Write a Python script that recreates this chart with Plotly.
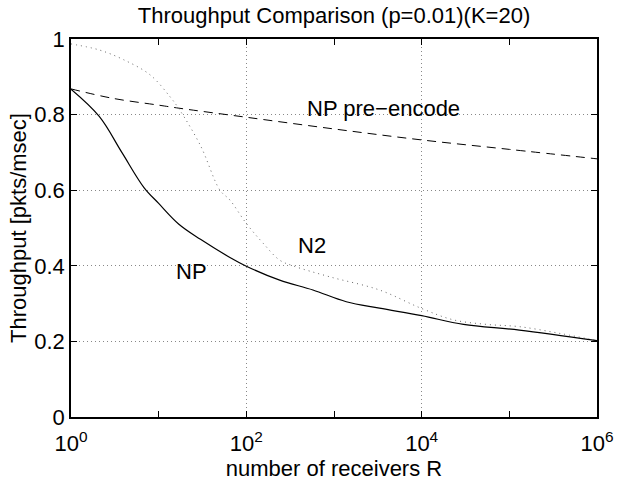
import math
import plotly.graph_objects as go

# number of receivers R
np_R = [1, 2.1, 3.8, 6.8, 10, 17, 30, 65, 100, 240, 575, 1380, 3300, 10000, 30000, 130000, 1000000]
np_thr = [0.867, 0.795, 0.700, 0.607, 0.565, 0.510, 0.470, 0.422, 0.399, 0.362, 0.336, 0.305, 0.288, 0.268, 0.245, 0.23, 0.202]

n2_R = [1, 2.1, 4, 8, 13.5, 17.4, 30, 50, 65, 100, 155, 240, 340, 890, 3300, 10000, 23000, 55000, 130000, 380000, 1000000]
n2_thr = [0.987, 0.971, 0.945, 0.905, 0.847, 0.812, 0.718, 0.60, 0.574, 0.512, 0.46, 0.415, 0.40, 0.371, 0.336, 0.287, 0.257, 0.245, 0.239, 0.221, 0.202]

pre_R = [1, 3, 10, 17, 100, 1000, 10000, 100000, 1000000]
pre_thr = [0.868, 0.843, 0.825, 0.817, 0.793, 0.762, 0.733, 0.708, 0.683]

x_tickvals = [1, 100, 10000, 1000000]
x_ticktext = ["10<sup>0</sup>", "10<sup>2</sup>", "10<sup>4</sup>", "10<sup>6</sup>"]
x_minorvals = [10, 1000, 100000]
y_tickvals = [0, 0.2, 0.4, 0.6, 0.8, 1]
y_ticktext = ["0", "0.2", "0.4", "0.6", "0.8", "1"]

labels = ["NP pre\u2212encode", "N2", "NP"]
label_R = [10 ** 3.56, 10 ** 2.75, 10 ** 1.37]
label_y = [0.817, 0.454, 0.384]

FONT = "Liberation Sans, Arial, Helvetica, sans-serif"
FS = 22

fig = go.Figure()
fig.add_trace(go.Scatter(x=pre_R, y=pre_thr, mode="lines", line=dict(color="black", width=1, dash="9px,6px"),
                         line_shape="spline", showlegend=False))
fig.add_trace(go.Scatter(x=n2_R, y=n2_thr, mode="lines", line=dict(color="#666666", width=1, dash="1px,4px"),
                         line_shape="spline", showlegend=False))
fig.add_trace(go.Scatter(x=np_R, y=np_thr, mode="lines", line=dict(color="black", width=1.2),
                         line_shape="spline", showlegend=False))

for t, xr, yv in zip(labels, label_R, label_y):
    fig.add_annotation(x=math.log10(xr), y=yv, text=t, showarrow=False,
                       font=dict(family=FONT, size=FS, color="black"), xref="x", yref="y")

fig.update_layout(
    width=629, height=485,
    margin=dict(l=71, r=32, t=39, b=68),
    paper_bgcolor="white", plot_bgcolor="white",
    font=dict(family=FONT, size=FS, color="black"),
    title=dict(text="Throughput Comparison (p=0.01)(K=20)", x=0.531, xanchor="center",
               y=0.985, yanchor="top", font=dict(family=FONT, size=FS, color="black")),
)
fig.update_xaxes(
    type="log", range=[0, 6], tickmode="array", tickvals=x_tickvals, ticktext=x_ticktext,
    ticks="inside", ticklen=6, tickcolor="black", tickwidth=1,
    showline=True, linecolor="black", linewidth=1.5, mirror="ticks",
    showgrid=True, gridcolor="#888888", griddash="1px,3px", gridwidth=1,
    zeroline=False, tickfont=dict(family=FONT, size=FS), ticklabelstandoff=6,
    minor=dict(tickvals=x_minorvals, ticks="inside", ticklen=6, tickcolor="black", showgrid=False),
    title=dict(text="number of receivers R", font=dict(family=FONT, size=FS), standoff=0),
)
fig.update_yaxes(
    range=[0, 1], tickmode="array", tickvals=y_tickvals, ticktext=y_ticktext,
    ticks="inside", ticklen=6, tickcolor="black", tickwidth=1,
    showline=True, linecolor="black", linewidth=1.5, mirror="ticks",
    showgrid=True, gridcolor="#888888", griddash="1px,3px", gridwidth=1,
    zeroline=False, tickfont=dict(family=FONT, size=FS),
    title=dict(text="Throughput [pkts/msec]", font=dict(family=FONT, size=FS), standoff=2),
)

fig.write_html("out.html")
